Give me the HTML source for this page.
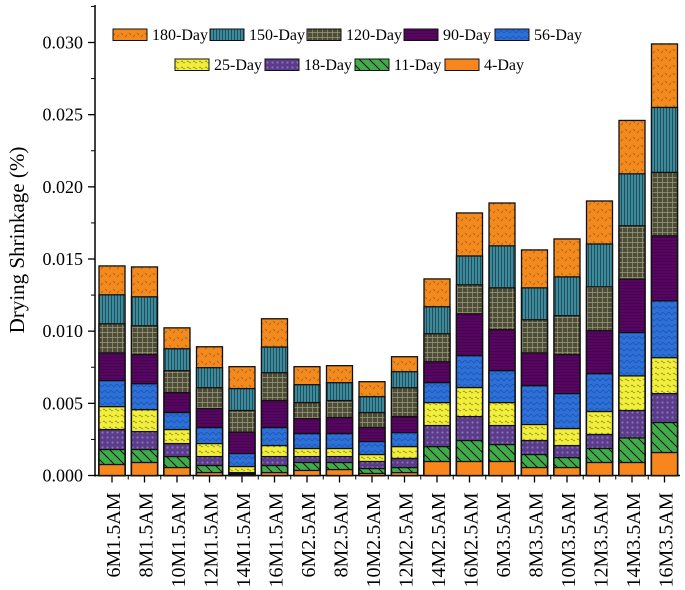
<!DOCTYPE html>
<html><head><meta charset="utf-8"><style>
html,body{margin:0;padding:0;background:#fff;}
svg{display:block;font-family:"Liberation Serif",serif;}
</style></head><body>
<svg id="chart" width="685" height="590">
<defs>
<pattern id="p180" width="8" height="8" patternUnits="userSpaceOnUse"><rect width="8" height="8" fill="#f28a1e"/><path d="M1 1l2 2M5 5l2 -2" stroke="#a85810" stroke-width="0.8"/></pattern>
<pattern id="p150" width="3" height="4" patternUnits="userSpaceOnUse"><rect width="3" height="4" fill="#3d8a9c"/><path d="M0.5 0v4" stroke="#17404a" stroke-width="0.8"/></pattern>
<pattern id="p120" width="5" height="5" patternUnits="userSpaceOnUse"><rect width="5" height="5" fill="#4e4d3a"/><path d="M0 2.5h5M2.5 0v5" stroke="#9c9a78" stroke-width="0.7"/></pattern>
<pattern id="p90" width="4" height="3" patternUnits="userSpaceOnUse"><rect width="4" height="3" fill="#560560"/><path d="M0 0.5h4" stroke="#3d0245" stroke-width="0.6"/></pattern>
<pattern id="p56" width="6" height="6" patternUnits="userSpaceOnUse"><rect width="6" height="6" fill="#2c70d8"/><path d="M0 3l3-3 3 3" stroke="#1d52a8" fill="none" stroke-width="0.7"/></pattern>
<pattern id="p25" width="6" height="6" patternUnits="userSpaceOnUse"><rect width="6" height="6" fill="#f2ee3c"/><path d="M1 2q1-2 2 0t2 0" stroke="#8c8a20" fill="none" stroke-width="0.7"/></pattern>
<pattern id="p18" width="5" height="5" patternUnits="userSpaceOnUse"><rect width="5" height="5" fill="#5a3c8a"/><circle cx="2.5" cy="2.5" r="1.1" fill="#8a70b8"/></pattern>
<pattern id="p11" width="10" height="10" patternUnits="userSpaceOnUse"><rect width="10" height="10" fill="#3fae48"/><path d="M0 0l10 10M-5 5l5 5M5 -5l10 10" stroke="#111" stroke-width="1"/></pattern>
<pattern id="p4" width="4" height="4" patternUnits="userSpaceOnUse"><rect width="4" height="4" fill="#f7861c"/></pattern>
</defs>
<g id="axes"></g><g id="bars"></g><g id="legend"></g>
</svg>
<script>
const categories=["6M1.5AM","8M1.5AM","10M1.5AM","12M1.5AM","14M1.5AM","16M1.5AM","6M2.5AM","8M2.5AM","10M2.5AM","12M2.5AM","14M2.5AM","16M2.5AM","6M3.5AM","8M3.5AM","10M3.5AM","12M3.5AM","14M3.5AM","16M3.5AM"];
const seriesNames=["180-Day","150-Day","120-Day","90-Day","56-Day","25-Day","18-Day","11-Day","4-Day"];
const d180=[0.01452,0.01445,0.01023,0.00892,0.00754,0.01086,0.00754,0.00761,0.0065,0.00823,0.01362,0.01819,0.01888,0.01563,0.01639,0.01902,0.0246,0.0299];
const d150=[0.01252,0.01238,0.00878,0.00747,0.00602,0.0089,0.00629,0.00643,0.00546,0.00719,0.01169,0.01521,0.01591,0.013,0.01376,0.01604,0.0209,0.0255];
const d120=[0.01051,0.01037,0.00726,0.00608,0.0045,0.00712,0.00505,0.00519,0.00436,0.00608,0.00982,0.01321,0.013,0.01079,0.01107,0.01307,0.0173,0.021];
const d90=[0.0085,0.00837,0.00574,0.00463,0.003,0.00519,0.00394,0.00401,0.00332,0.00408,0.00788,0.0112,0.0101,0.0085,0.00837,0.01003,0.0136,0.0166];
const d56=[0.00657,0.00636,0.00436,0.00332,0.00152,0.00332,0.0029,0.0029,0.00235,0.00297,0.00643,0.0083,0.00726,0.00622,0.00567,0.00705,0.0099,0.0121];
const d25=[0.00477,0.00456,0.00318,0.00221,0.00062,0.00207,0.00187,0.00187,0.00145,0.002,0.00505,0.00609,0.00505,0.00353,0.00325,0.00443,0.0069,0.00816];
const d18=[0.00318,0.00304,0.00221,0.00131,0.0002,0.00131,0.00131,0.00131,0.00097,0.00118,0.00346,0.00408,0.00346,0.00242,0.00207,0.00284,0.0045,0.00567];
const d11=[0.0018,0.0018,0.00131,0.00069,0.00014,0.00069,0.0009,0.0009,0.00048,0.00055,0.002,0.00242,0.00214,0.00145,0.00124,0.00187,0.0026,0.00367];
const d4=[0.00076,0.0009,0.00055,0.0002,0.00007,0.0002,0.00035,0.00041,0.00014,0.0002,0.00097,0.00097,0.00097,0.00055,0.00055,0.0009,0.0009,0.00159];
const yTicks=["0.000","0.005","0.010","0.015","0.020","0.025","0.030"];
const series=[d180,d150,d120,d90,d56,d25,d18,d11,d4];
const fills=["p180","p150","p120","p90","p56","p25","p18","p11","p4"];
const NS="http://www.w3.org/2000/svg";
const X0=95,Y0=475.5,YT=5;
function y(v){return Y0-v*(433/0.03);}
function xc(i){return 112+i*32.5;}
function mk(tag,attrs,parent){const e=document.createElementNS(NS,tag);for(const k in attrs)e.setAttribute(k,attrs[k]);parent.appendChild(e);return e;}
const axes=document.getElementById('axes'),bars=document.getElementById('bars'),leg=document.getElementById('legend');
let a=mk('line',{x1:X0,y1:YT,x2:X0,y2:Y0+1,stroke:'#000','stroke-width':1.5},axes);

a=mk('line',{x1:X0-1,y1:Y0,x2:680,y2:Y0,stroke:'#000','stroke-width':1.5},axes);

yTicks.forEach((t,i)=>{const v=parseFloat(t);const yy=y(v);
 mk('line',{x1:X0-7,y1:yy,x2:X0,y2:yy,stroke:'#000','stroke-width':1.3},axes);
 if(i<yTicks.length-1){mk('line',{x1:X0-4,y1:y(v+0.0025),x2:X0,y2:y(v+0.0025),stroke:'#000','stroke-width':1},axes);}
 const tx=mk('text',{x:X0-12,y:yy+6,'text-anchor':'end','font-size':18},axes);tx.textContent=t;
 });
mk('line',{x1:X0-4,y1:y(0.0325),x2:X0,y2:y(0.0325),stroke:'#000','stroke-width':1},axes);
let yt=mk('text',{x:0,y:0,transform:'translate(24,240) rotate(-90)','text-anchor':'middle','font-size':21},axes);
yt.textContent='Drying Shrinkage (%)';

categories.forEach((c,i)=>{const cx=xc(i);
 mk('line',{x1:cx,y1:Y0,x2:cx,y2:Y0+7,stroke:'#000','stroke-width':1.3},axes);
 if(i<categories.length-1)mk('line',{x1:cx+16.25,y1:Y0,x2:cx+16.25,y2:Y0+4,stroke:'#000','stroke-width':1},axes);
 const t=mk('text',{x:0,y:0,transform:`translate(${cx+8},${Y0+17}) rotate(-90)`,'text-anchor':'end','font-size':20},axes);
 t.textContent=c;
 series.forEach((s,k)=>{const top=y(s[i]);
  const r=mk('rect',{x:cx-13,y:top,width:26,height:Y0-top,fill:`url(#${fills[k]})`,stroke:'#111','stroke-width':1.3},bars);
  
  });});
const legPos=[[113,29],[210,29],[307,29],[404,29],[495,29],[175,59],[265,59],[355,59],[445,59]];
seriesNames.forEach((n,k)=>{const [lx,ly]=legPos[k];
 const g=mk('g',{},leg);
 mk('rect',{x:lx,y:ly,width:34,height:11.5,fill:`url(#${fills[k]})`,stroke:'#111','stroke-width':1},g);
 const t=mk('text',{x:lx+39,y:ly+11,'font-size':16},g);t.textContent=n;});
</script>
</body></html>
